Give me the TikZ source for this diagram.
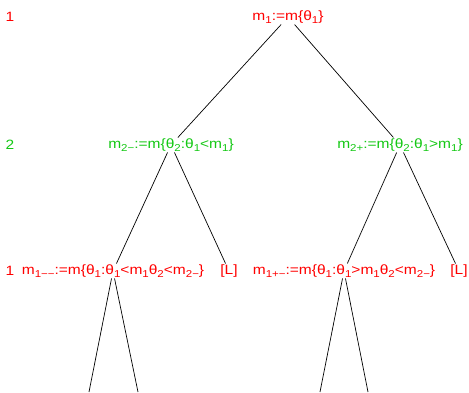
\documentclass[tikz,border=0pt]{standalone}
\usepackage{fontspec}
\setmainfont[FakeStretch=1.15]{Liberation Sans}
\definecolor{lvred}{RGB}{255,0,0}
\definecolor{lvgreen}{RGB}{20,200,20}
\newcommand{\lsub}[1]{\raisebox{-2.6pt}{\fontsize{10}{10}\selectfont #1}}

\begin{document}
\begin{tikzpicture}[x=1pt,y=-1pt,
  lab/.style={inner sep=1pt,font=\fontsize{13.5}{15}\selectfont},
  odd/.style={lab,text=lvred},
  even/.style={lab,text=lvgreen},
  branch/.style={line width=0.7pt}]
  \useasboundingbox (0,0) rectangle (469,392);
  % level numbers
  \node[odd]  (lev1) at (10,17)  {1};
  \node[even] (lev2) at (10,145) {2};
  \node[odd]  (lev3) at (10,271) {1};
  % tree
  \node[odd]  (root) at (288,17)  {m\lsub{1}:=m\{θ\lsub{1}\}};
  \node[even] (lm)   at (171,145) {m\lsub{2−}:=m\{θ\lsub{2}:θ\lsub{1}<m\lsub{1}\}};
  \node[even] (rm)   at (400,145) {m\lsub{2+}:=m\{θ\lsub{2}:θ\lsub{1}>m\lsub{1}\}};
  \node[odd]  (lml)  at (113,271) {m\lsub{1−−}:=m\{θ\lsub{1}:θ\lsub{1}<m\lsub{1}θ\lsub{2}<m\lsub{2−}\}};
  \node[odd]  (lmL)  at (229,271) {[L]};
  \node[odd]  (rml)  at (344,271) {m\lsub{1+−}:=m\{θ\lsub{1}:θ\lsub{1}>m\lsub{1}θ\lsub{2}<m\lsub{2−}\}};
  \node[odd]  (rmL)  at (459,271) {[L]};
  \coordinate (e1) at (89,392);
  \coordinate (e2) at (138,392);
  \coordinate (e3) at (320,392);
  \coordinate (e4) at (368,392);
  \draw[branch] (root) -- (lm);
  \draw[branch] (root) -- (rm);
  \draw[branch] (lm) -- (lml);
  \draw[branch] (lm) -- (lmL);
  \draw[branch] (rm) -- (rml);
  \draw[branch] (rm) -- (rmL);
  \draw[branch] (lml) -- (e1);
  \draw[branch] (lml) -- (e2);
  \draw[branch] (rml) -- (e3);
  \draw[branch] (rml) -- (e4);
\end{tikzpicture}
\end{document}
